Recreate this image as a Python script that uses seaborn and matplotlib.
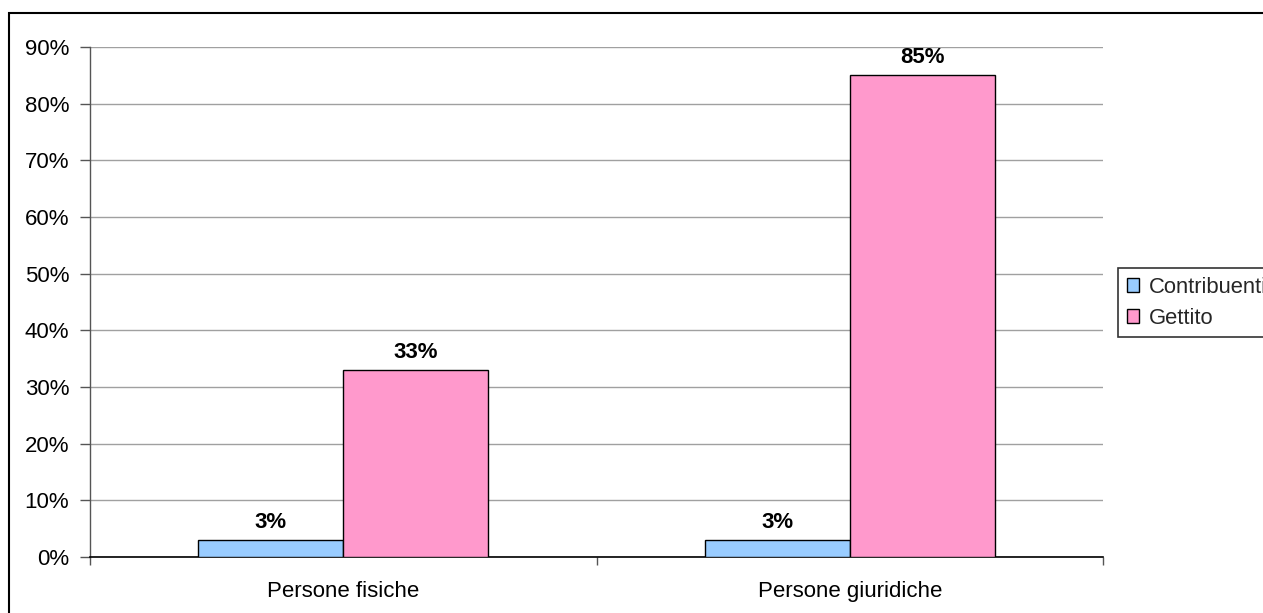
import matplotlib
matplotlib.use("Agg")
import matplotlib.pyplot as plt
import matplotlib.patches as mpatches
from matplotlib.ticker import FixedLocator, PercentFormatter
import seaborn as sns
import pandas as pd

# Data
categorie = ["Persone fisiche", "Persone giuridiche"]
serie = ["Contribuenti", "Gettito"]
contribuenti = [3, 3]
gettito = [33, 85]
colori = ["#99CCFF", "#FF99CC"]
yticks = [0, 10, 20, 30, 40, 50, 60, 70, 80, 90]

df = pd.DataFrame({
    "categoria": categorie * 2,
    "serie": [serie[0]] * 2 + [serie[1]] * 2,
    "valore": contribuenti + gettito,
})

sns.set_theme(style="white")
plt.rcParams["font.family"] = ["Liberation Sans", "DejaVu Sans"]

W, H = 1263, 613
fig = plt.figure(figsize=(W / 100, H / 100), dpi=100)
ax = fig.add_axes([90 / W, 1 - 557 / H, (1103 - 90) / W, (557 - 47) / H])

sns.barplot(data=df, x="categoria", y="valore", hue="serie",
            order=categorie, hue_order=serie, palette=colori,
            width=0.573, edgecolor="black", linewidth=1.0,
            saturation=1, ax=ax, legend=False, zorder=3)

ax.set_xlim(-0.5, 1.5)
ax.set_ylim(0, 90)
ax.set_xlabel("")
ax.set_ylabel("")

# Y axis
ax.yaxis.set_major_locator(FixedLocator(yticks))
ax.yaxis.set_major_formatter(PercentFormatter(decimals=0))
ax.grid(axis="y", color="#a0a0a0", linewidth=1.0, zorder=0)
ax.tick_params(axis="y", which="major", left=True, length=7, width=1,
               color="#555555", pad=8, labelsize=16, labelcolor="black")

# X axis: labels centred on categories, ticks between them
ax.set_xticks([0, 1])
ax.set_xticklabels(categorie)
ax.xaxis.set_minor_locator(FixedLocator([-0.5, 0.5, 1.5]))
ax.tick_params(axis="x", which="major", length=0, pad=17, labelsize=16,
               labelcolor="black")
ax.tick_params(axis="x", which="minor", bottom=True, length=6, width=1,
               color="#555555")

for side in ["top", "right"]:
    ax.spines[side].set_visible(False)
ax.spines["left"].set_color("#555555")
ax.spines["bottom"].set_color("black")
ax.spines["left"].set_linewidth(1)
ax.spines["bottom"].set_linewidth(1.2)

# Value labels above bars
for cont in ax.containers:
    ax.bar_label(cont, labels=[f"{v:.0f}%" for v in cont.datavalues],
                 padding=5, fontsize=16, fontweight="bold", color="black")

# Legend
handles = [mpatches.Patch(facecolor=c, edgecolor="black", linewidth=1, label=s)
           for c, s in zip(colori, serie)]
leg = fig.legend(handles=handles, loc="upper left",
                 bbox_to_anchor=(1118 / W, 1 - 268 / H),
                 fontsize=15.8, frameon=True, fancybox=False,
                 edgecolor="black", handlelength=0.55, handleheight=0.55,
                 handletextpad=0.45, labelspacing=0.45, borderpad=0.4,
                 borderaxespad=0)
leg.get_frame().set_linewidth(1.2)

# Outer chart-area frame
fig.add_artist(mpatches.Rectangle((9 / W, -0.05), 1.2, 1 - 13 / H + 0.05,
                                  transform=fig.transFigure, fill=False,
                                  edgecolor="black", linewidth=1.5))

fig.savefig("out.png", dpi=100, facecolor="white")
